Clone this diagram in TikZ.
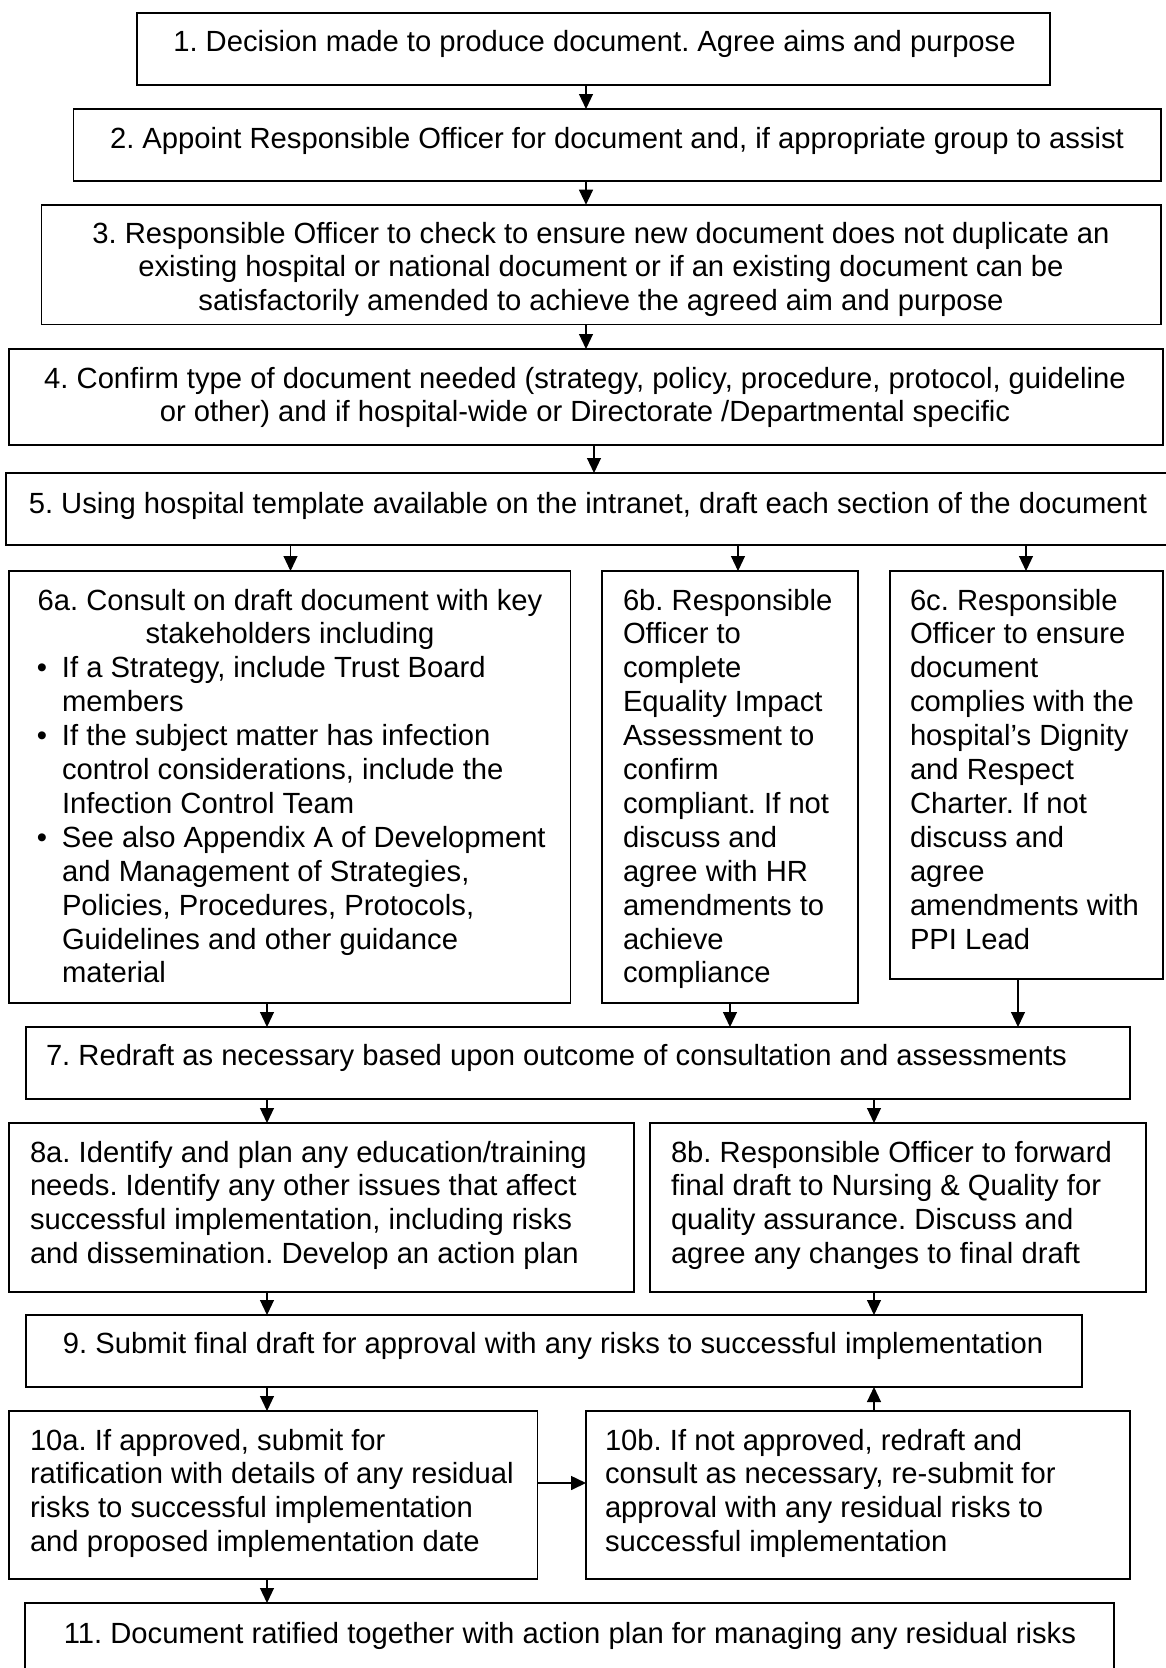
\documentclass[tikz,border=0pt]{standalone}
\usepackage{fontspec}
\setmainfont{Liberation Sans}
\usetikzlibrary{arrows.meta}
\frenchspacing
\begin{document}
\begin{tikzpicture}[x=1pt,y=-1pt,
  box/.style={draw=black,line width=1.6pt,rectangle,anchor=north west,inner sep=0pt,outer sep=0pt},
  txt/.style={inner sep=0pt,outer sep=0pt,font=\fontsize{29.2}{33.9}\selectfont\frenchspacing},
  ctxt/.style={txt,anchor=base,align=center},
  ltxt/.style={txt,anchor=base west,align=left},
  arr/.style={line width=1.1pt,-{Triangle[length=15pt,width=14pt]}},
  arrh/.style={line width=1.6pt,-{Triangle[length=15pt,width=14pt]}}]
\useasboundingbox (0,0) rectangle (1165,1668);
% boxes
\node[box,minimum width=913pt,minimum height=72.3pt] (b1) at (137,12.7) {};
\node[box,minimum width=1087.5pt,minimum height=72pt] (b2) at (73.5,109) {};
\node[box,minimum width=1119.4pt,minimum height=119.6pt] (b3) at (41.6,204.7) {};
\node[box,minimum width=1154pt,minimum height=96pt] (b4) at (9,349) {};
\node[box,minimum width=1175pt,minimum height=72pt] (b5) at (6,473) {};
\node[box,minimum width=561.6pt,minimum height=432pt] (b6a) at (9,571) {};
\node[box,minimum width=256pt,minimum height=432pt] (b6b) at (602,571) {};
\node[box,minimum width=273pt,minimum height=408pt] (b6c) at (890,571) {};
\node[box,minimum width=1104pt,minimum height=72pt] (b7) at (26,1027) {};
\node[box,minimum width=625pt,minimum height=169pt] (b8a) at (9,1123) {};
\node[box,minimum width=496pt,minimum height=169pt] (b8b) at (650,1123) {};
\node[box,minimum width=1056pt,minimum height=72pt] (b9) at (26,1315) {};
\node[box,minimum width=528.5pt,minimum height=168pt] (b10a) at (9,1411) {};
\node[box,minimum width=544pt,minimum height=168pt] (b10b) at (586,1411) {};
\node[box,minimum width=1089pt,minimum height=90pt] (b11) at (25,1603) {};
% texts (base anchor = baseline of last line)
\node[ctxt] (t1) at (594.5,51) {1. Decision made to produce document. Agree aims and purpose};
\node[ctxt] (t2) at (617,148) {2. Appoint Responsible Officer for document and, if appropriate group to assist};
\node[ctxt] (t3) at (601,310.8) {3. Responsible Officer to check to ensure new document does not duplicate an\\existing hospital or national document or if an existing document can be\\satisfactorily amended to achieve the agreed aim and purpose};
\node[ctxt] (t4) at (585,421.9) {4. Confirm type of document needed (strategy, policy, procedure, protocol, guideline\\or other) and if hospital-wide or Directorate /Departmental specific};
\node[ctxt] (t5) at (588,513) {5. Using hospital template available on the intranet, draft each section of the document};
\node[ctxt] (t6ah) at (290,643.9) {6a. Consult on draft document with key\\stakeholders including};
\node[ltxt] (t6ab) at (62,982.9) {\llap{•\hspace{15pt}}If a Strategy, include Trust Board\\members\\\llap{•\hspace{15pt}}If the subject matter has infection\\control considerations, include the\\Infection Control Team\\\llap{•\hspace{15pt}}See also Appendix A of Development\\and Management of Strategies,\\Policies, Procedures, Protocols,\\Guidelines and other guidance\\material};
\node[ltxt] (t6b) at (623,982.9) {6b. Responsible\\Officer to\\complete\\Equality Impact\\Assessment to\\confirm\\compliant. If not\\discuss and\\agree with HR\\amendments to\\achieve\\compliance};
\node[ltxt] (t6c) at (910,949) {6c. Responsible\\Officer to ensure\\document\\complies with the\\hospital’s Dignity\\and Respect\\Charter. If not\\discuss and\\agree\\amendments with\\PPI Lead};
\node[ltxt] (t7) at (46,1065) {7. Redraft as necessary based upon outcome of consultation and assessments};
\node[ltxt] (t8a) at (30,1263.7) {8a. Identify and plan any education/training\\needs. Identify any other issues that affect\\successful implementation, including risks\\and dissemination. Develop an action plan};
\node[ltxt] (t8b) at (671,1263.7) {8b. Responsible Officer to forward\\final draft to Nursing \& Quality for\\quality assurance. Discuss and\\agree any changes to final draft};
\node[ctxt] (t9) at (553,1353) {9. Submit final draft for approval with any risks to successful implementation};
\node[ltxt] (t10a) at (30,1551.7) {10a. If approved, submit for\\ratification with details of any residual\\risks to successful implementation\\and proposed implementation date};
\node[ltxt] (t10b) at (605,1551.7) {10b. If not approved, redraft and\\consult as necessary, re-submit for\\approval with any residual risks to\\successful implementation};
\node[ctxt] (t11) at (570,1643) {11. Document ratified together with action plan for managing any residual risks};
% connector x positions
\coordinate (xa) at (586,0);
\coordinate (xb) at (594,0);
\coordinate (xc) at (290.5,0);
\coordinate (xd) at (738,0);
\coordinate (xe) at (1026,0);
\coordinate (xf) at (267,0);
\coordinate (xg) at (730,0);
\coordinate (xh) at (1018,0);
\coordinate (xi) at (874,0);
\coordinate (yh) at (0,1483);
% connectors
\draw[arr] (b1.south -| xa) -- (b2.north -| xa);
\draw[arr] (b2.south -| xa) -- (b3.north -| xa);
\draw[arr] (b3.south -| xa) -- (b4.north -| xa);
\draw[arr] (b4.south -| xb) -- (b5.north -| xb);
\draw[arr] (b5.south -| xc) -- (b6a.north -| xc);
\draw[arr] (b5.south -| xd) -- (b6b.north -| xd);
\draw[arr] (b5.south -| xe) -- (b6c.north -| xe);
\draw[arr] (b6a.south -| xf) -- (b7.north -| xf);
\draw[arr] (b6b.south -| xg) -- (b7.north -| xg);
\draw[arr] (b6c.south -| xh) -- (b7.north -| xh);
\draw[arr] (b7.south -| xf) -- (b8a.north -| xf);
\draw[arr] (b7.south -| xi) -- (b8b.north -| xi);
\draw[arr] (b8a.south -| xf) -- (b9.north -| xf);
\draw[arr] (b8b.south -| xi) -- (b9.north -| xi);
\draw[arr] (b9.south -| xf) -- (b10a.north -| xf);
\draw[arr] (b10b.north -| xi) -- (b9.south -| xi);
\draw[arrh] (b10a.east |- yh) -- (b10b.west |- yh);
\draw[arr] (b10a.south -| xf) -- (b11.north -| xf);
\end{tikzpicture}
\end{document}
